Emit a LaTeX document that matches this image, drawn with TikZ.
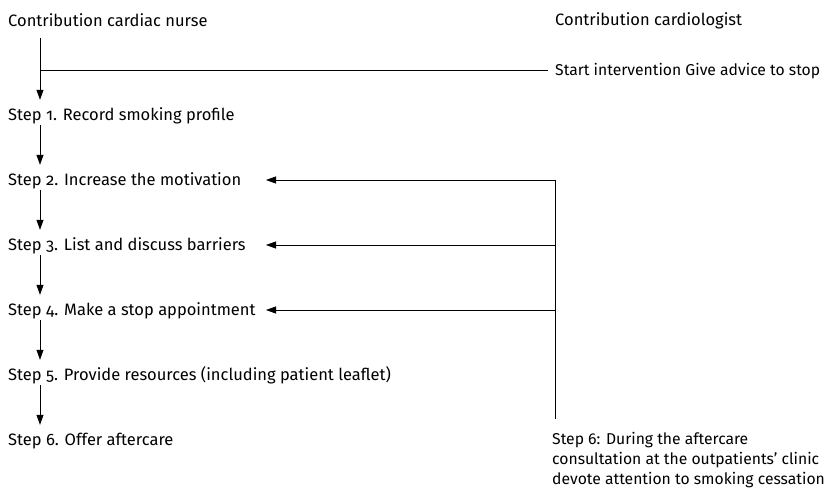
\documentclass[tikz,border=0pt]{standalone}
\usepackage{fontspec}
\setmainfont{Fira Sans}[Numbers=OldStyle]
\usetikzlibrary{arrows.meta, positioning}

\begin{document}
\begin{tikzpicture}[x=1pt, y=-1pt,
        heading/.style={anchor=base west, inner xsep=0pt, inner ysep=2pt, text height=12pt, text depth=2pt, font=\fontsize{16.5}{20}\selectfont},
        stepnode/.style={heading},
        note/.style={anchor=north west, inner xsep=0pt, inner ysep=13pt, align=left, font=\fontsize{15.7}{20}\selectfont},
        flow/.style={-{Triangle[length=10pt, width=7pt]}, line width=0.8pt},
        line/.style={-, line width=0.8pt}
    ]
        \useasboundingbox (0,0) rectangle (836,490);
        \coordinate (spine) at (40,0);
        \coordinate (back) at (555,0);
        \coordinate (tip) at (266,0);

        % Headings
        \node[heading] (nurse) at (8,26) {Contribution cardiac nurse};
        \node[heading] (cardio) at (555,25) {Contribution cardiologist};
        \node[heading, font=\fontsize{15.7}{20}\selectfont] (start) at (555,75) {Start intervention Give advice to stop};

        % Nurse steps
        \node[stepnode] (s1) at (8,120) {Step 1. Record smoking profile};
        \node[stepnode, below=65pt of s1.base west, anchor=base west] (s2) {Step 2. Increase the motivation};
        \node[stepnode, below=65pt of s2.base west, anchor=base west] (s3) {Step 3. List and discuss barriers};
        \node[stepnode, below=65pt of s3.base west, anchor=base west] (s4) {Step 4. Make a stop appointment};
        \node[stepnode, below=65pt of s4.base west, anchor=base west] (s5) {Step 5. Provide resources (including patient leaflet)};
        \node[stepnode, below=65pt of s5.base west, anchor=base west] (s6) {Step 6. Offer aftercare};

        % Cardiologist aftercare
        \node[note] (aftercare) at (552,419) {Step 6: During the aftercare\\consultation at the outpatients' clinic\\devote attention to smoking cessation};

        \draw[flow, shorten <=8pt, shorten >=6pt] (nurse.south -| spine) -- (s1.north -| spine);
        \draw[line, shorten >=7pt] (spine |- start) -- (start.west);
        \foreach \a/\b in {s1/s2, s2/s3, s3/s4, s4/s5, s5/s6}
            \draw[flow, shorten <=1pt, shorten >=6pt] (\a.south -| spine) -- (\b.north -| spine);

        \draw[line] (s2 -| back) -- (aftercare.north -| back);
        \foreach \s in {s2, s3, s4}
            \draw[flow] (\s -| back) -- (\s -| tip);
\end{tikzpicture}
\end{document}
